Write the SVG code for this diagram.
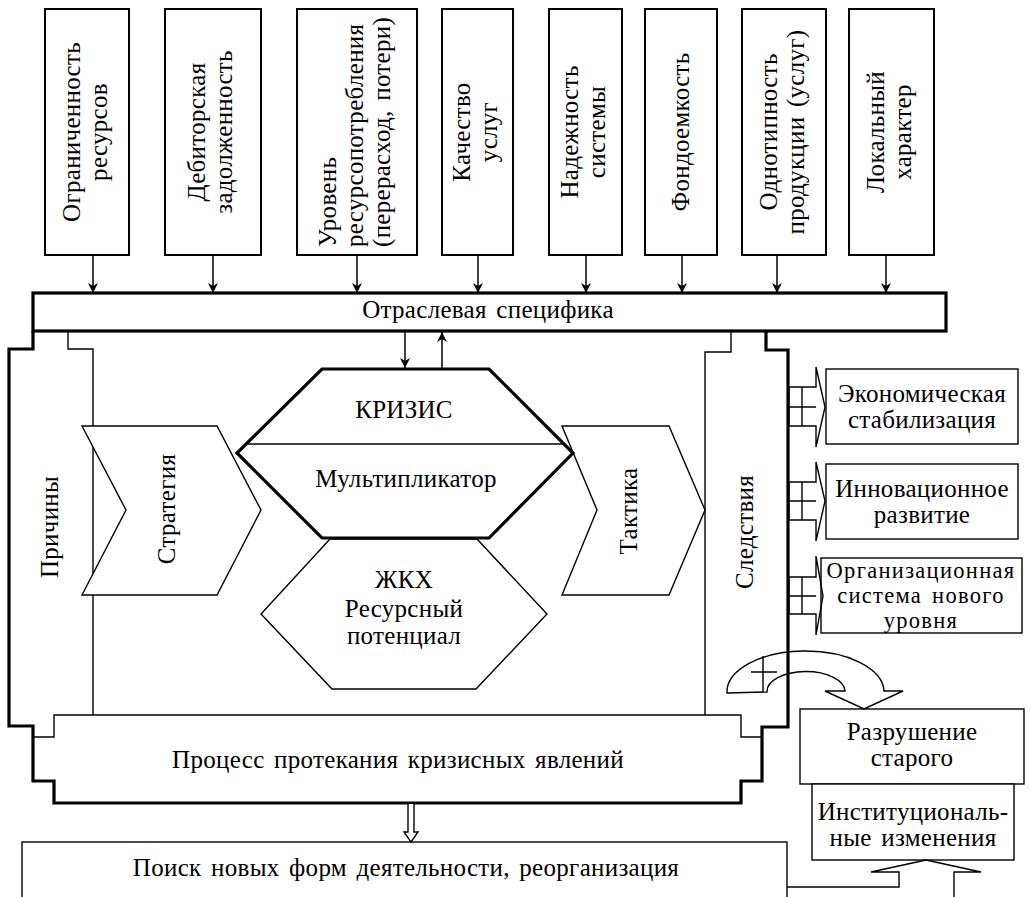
<svg xmlns="http://www.w3.org/2000/svg" width="1030" height="897" viewBox="0 0 1030 897" font-family="'Liberation Serif', 'DejaVu Serif', serif">
<style>
.t{font-family:'Liberation Serif','DejaVu Serif',serif;font-size:25px;fill:#000;text-anchor:middle;letter-spacing:0.3px;word-spacing:3px}
.sm{font-size:22.5px;letter-spacing:1.3px}
.s{text-anchor:start}
.box{fill:#fff;stroke:#000;stroke-width:2}
.thin{fill:none;stroke:#000;stroke-width:1.4}
.thinw{fill:#fff;stroke:#000;stroke-width:1.4}
.thick{fill:none;stroke:#000;stroke-width:3.2}
.thickw{fill:#fff;stroke:#000;stroke-width:3.2}
.ln{fill:none;stroke:#000;stroke-width:1.5}
</style>
<defs>
<marker id="ah" viewBox="0 -5 10 10" refX="10" refY="0" markerWidth="10" markerHeight="10" markerUnits="userSpaceOnUse" orient="auto">
<path d="M0,-5 L10,0 L0,5 L3,0 Z" fill="#000"/>
</marker>
</defs>
<rect width="1030" height="897" fill="#fff"/>

<g id="frame">
<rect id="poisk-box" x="22" y="842" width="765" height="80" class="thinw"/>
<path class="thick" d="M33,331 V349 H9 V726 H33 V781 H54 V803 H741 V781 H762 V727 H788 V350 H766 V331"/>
<path class="thin" d="M33,737 H54 V715 H741 V737 H762"/>
<path class="thin" d="M68,331 V349 H93 V715"/>
<path class="thin" d="M731,331 V352 H705 V715"/>
</g>

<g id="top-boxes">
<g id="b1"><rect x="45" y="9" width="84" height="246" class="box"/>
<g transform="translate(87,132) rotate(-90)"><text class="t" y="-7">Ограниченность</text><text class="t" y="20">ресурсов</text></g></g>
<g id="b2"><rect x="165" y="9" width="96" height="246" class="box"/>
<g transform="translate(213,132) rotate(-90)"><text class="t" y="-8">Дебиторская</text><text class="t" y="19">задолженность</text></g></g>
<g id="b3"><rect x="297" y="9" width="120" height="246" class="box"/>
<g transform="translate(357,132) rotate(-90)"><text class="t s" x="-115" y="-21">Уровень</text><text class="t s" x="-115" y="6">ресурсопотребления</text><text class="t s" x="-115" y="33">(перерасход, потери)</text></g></g>
<g id="b4"><rect x="442" y="9" width="71" height="246" class="box"/>
<g transform="translate(477,132) rotate(-90)"><text class="t" y="-7">Качество</text><text class="t" y="20">услуг</text></g></g>
<g id="b5"><rect x="549" y="9" width="73" height="246" class="box"/>
<g transform="translate(585,132) rotate(-90)"><text class="t" y="-7">Надежность</text><text class="t" y="20">системы</text></g></g>
<g id="b6"><rect x="645" y="9" width="72" height="246" class="box"/>
<g transform="translate(681,132) rotate(-90)"><text class="t" y="8">Фондоемкость</text></g></g>
<g id="b7"><rect x="742" y="9" width="84" height="246" class="box"/>
<g transform="translate(784,132) rotate(-90)"><text class="t" y="-7">Однотипность</text><text class="t" y="20">продукции (услуг)</text></g></g>
<g id="b8"><rect x="849" y="9" width="85" height="246" class="box"/>
<g transform="translate(891,132) rotate(-90)"><text class="t" y="-7">Локальный</text><text class="t" y="20">характер</text></g></g>
</g>

<g id="bar">
<rect x="33" y="293" width="913" height="38" class="thickw"/>
<text class="t" x="488" y="318">Отраслевая специфика</text>
</g>

<g id="labels-side">
<g transform="translate(50,527) rotate(-90)"><text class="t" y="8">Причины</text></g>
<g transform="translate(745,532) rotate(-90)"><text class="t" y="8">Следствия</text></g>
</g>

<g id="strategy">
<polygon class="thinw" points="82,426 217,426 261,510 217,595 82,595 126,510"/>
<g transform="translate(167,509) rotate(-90)"><text class="t" y="8">Стратегия</text></g>
</g>
<g id="tactics">
<polygon class="thinw" points="562,426 669,426 705,510 669,595 562,595 597,510"/>
<g transform="translate(629,511) rotate(-90)"><text class="t" y="8">Тактика</text></g>
</g>

<g id="zhkh">
<polygon class="thinw" points="330,539 477,539 547,614 476,689 332,689 261,614"/>
<text class="t" x="404" y="588">ЖКХ</text>
<text class="t" x="404" y="617">Ресурсный</text>
<text class="t" x="404" y="644">потенциал</text>
</g>

<g id="crisis">
<polygon class="thickw" points="322,369 489,369 573,453 489,538 322,538 237,453"/>
<line class="thin" x1="246" y1="444" x2="564" y2="444"/>
<text class="t" x="404" y="418">КРИЗИС</text>
<text class="t" x="406" y="487">Мультипликатор</text>
</g>

<g id="results">
<g id="r1"><rect x="826" y="369" width="192" height="75" class="thinw"/>
<text class="t" x="922" y="402">Экономическая</text><text class="t" x="922" y="428">стабилизация</text></g>
<g id="r2"><rect x="826" y="464" width="192" height="75" class="thinw"/>
<text class="t" x="922" y="497">Инновационное</text><text class="t" x="922" y="523">развитие</text></g>
<g id="r3"><rect x="821" y="558" width="201" height="75" class="thinw"/>
<text class="t sm" x="921" y="578">Организационная</text><text class="t sm" x="921" y="603">система нового</text><text class="t sm" x="921" y="628">уровня</text></g>
<g id="r4"><rect x="800" y="709" width="224" height="75" class="thinw"/>
<text class="t" x="912" y="740">Разрушение</text><text class="t" x="912" y="766">старого</text></g>
<g id="r5"><rect x="812" y="784" width="202" height="76" class="thinw"/>
<text class="t" x="913" y="820">Институциональ-</text><text class="t" x="913" y="846">ные изменения</text></g>
</g>

<g id="poisk-text">
<text class="t" x="406" y="876">Поиск новых форм деятельности, реорганизация</text>
</g>
<g id="process-text">
<text class="t" x="398" y="768">Процесс протекания кризисных явлений</text>
</g>

<g id="connectors">
<line class="ln" x1="93" y1="255" x2="93" y2="293" marker-end="url(#ah)"/>
<line class="ln" x1="213" y1="255" x2="213" y2="293" marker-end="url(#ah)"/>
<line class="ln" x1="357" y1="255" x2="357" y2="293" marker-end="url(#ah)"/>
<line class="ln" x1="478" y1="255" x2="478" y2="293" marker-end="url(#ah)"/>
<line class="ln" x1="586" y1="255" x2="586" y2="293" marker-end="url(#ah)"/>
<line class="ln" x1="682" y1="255" x2="682" y2="293" marker-end="url(#ah)"/>
<line class="ln" x1="777" y1="255" x2="777" y2="293" marker-end="url(#ah)"/>
<line class="ln" x1="886" y1="255" x2="886" y2="293" marker-end="url(#ah)"/>
<line class="ln" x1="405" y1="332" x2="405" y2="368" marker-end="url(#ah)"/>
<line class="ln" x1="442" y1="368" x2="442" y2="332" marker-end="url(#ah)"/>
<path class="thinw" d="M408,804 V832 H404 L411,842 L418,832 H414 V804"/>
<g id="fork1"><polygon class="thin" points="789,387 816,387 816,367 825,407 816,447 816,426 789,426"/><path class="thin" d="M789,407 H816 M802,387 V426"/></g>
<g id="fork2"><polygon class="thin" points="789,482 816,482 816,462 825,501 816,541 816,520 789,520"/><path class="thin" d="M789,501 H816 M802,482 V520"/></g>
<g id="fork3"><polygon class="thin" points="789,577 816,577 816,556 823,596 816,635 816,614 789,614"/><path class="thin" d="M789,596 H816 M802,577 V614"/></g>
<path class="thin" d="M727,693 A78.5,41 0 0 1 884,691 L903,691 L864,709 L825,691 L845,691 A39,20 0 0 0 767,692 Z"/>
<path class="thin" d="M763,656 V692 M751,672 H777"/>
<path class="thinw" d="M787,887 H899 V872 H871 L926,860 L981,872 H954 V900"/>
</g>
</svg>
